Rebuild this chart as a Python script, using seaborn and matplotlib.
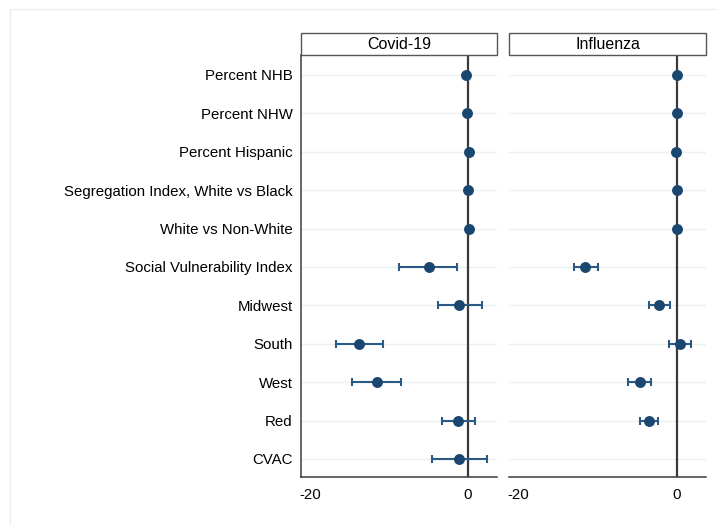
#!/usr/bin/env python3
"""
Coefficient plot: Covid-19 vs Influenza, two panels sharing the y categories.
"""

import numpy as np
import pandas as pd
import matplotlib
matplotlib.use("Agg")
import matplotlib.pyplot as plt
from matplotlib.patches import Rectangle
import seaborn as sns

# --- data ---
terms = [
    "Percent NHB",
    "Percent NHW",
    "Percent Hispanic",
    "Segregation Index, White vs Black",
    "White vs Non-White",
    "Social Vulnerability Index",
    "Midwest",
    "South",
    "West",
    "Red",
    "CVAC",
]
panels = ["Covid-19", "Influenza"]

covid_est = [-0.2, -0.1, 0.1, 0.0, 0.2, -5.0, -1.1, -13.8, -11.6, -1.2, -1.1]
covid_lo = [-0.3, -0.2, 0.0, -0.1, 0.1, -8.7, -3.8, -16.7, -14.7, -3.3, -4.5]
covid_hi = [-0.1, 0.0, 0.2, 0.1, 0.3, -1.35, 1.8, -10.8, -8.5, 0.9, 2.4]

flu_est = [0.0, 0.0, -0.1, 0.1, 0.0, -11.6, -2.2, 0.4, -4.7, -3.5, np.nan]
flu_lo = [-0.1, -0.1, -0.2, 0.0, -0.1, -13.0, -3.5, -1.0, -6.1, -4.6, np.nan]
flu_hi = [0.1, 0.1, 0.0, 0.2, 0.1, -10.0, -0.9, 1.8, -3.2, -2.4, np.nan]

xticks = [-20, 0]

NAVY = "#1a476f"
BAR = "#2b5a86"
GRID = "#e9f1f3"
DARK = "#3a3a3a"
FS = 10.8


def build_frame():
    rows = []
    for panel, est, lo, hi in [
        ("Covid-19", covid_est, covid_lo, covid_hi),
        ("Influenza", flu_est, flu_lo, flu_hi),
    ]:
        for i, t in enumerate(terms):
            rows.append({"panel": panel, "term": t, "pos": i,
                         "est": est[i], "lo": lo[i], "hi": hi[i]})
    return pd.DataFrame(rows)


def draw_panel(ax, df, title, first):
    for i in range(len(terms)):
        ax.axhline(i, color=GRID, lw=1.0, zorder=0)
    ax.axvline(0, color=DARK, lw=1.6, zorder=1)

    d = df.dropna()
    ax.errorbar(d["est"], d["pos"],
                xerr=[d["est"] - d["lo"], d["hi"] - d["est"]],
                fmt="none", ecolor=BAR, elinewidth=1.5, capsize=2.8,
                capthick=1.5, zorder=2)
    sns.scatterplot(data=d, x="est", y="pos", ax=ax, color=NAVY, s=62,
                    edgecolor=NAVY, linewidth=0, zorder=3, legend=False)

    ax.set_xlim(-21.2, 3.7)
    ax.set_ylim(10.47, -0.52)
    ax.set_xticks(xticks)
    ax.set_xticklabels([str(x) for x in xticks])
    ax.set_yticks(range(len(terms)))
    ax.set_xlabel("")
    ax.set_ylabel("")
    ax.grid(False)

    for s in ["top", "right"]:
        ax.spines[s].set_visible(False)
    ax.spines["bottom"].set_color(DARK)
    ax.spines["bottom"].set_linewidth(1.1)
    if first:
        ax.set_yticklabels(terms)
        ax.spines["left"].set_color(DARK)
        ax.spines["left"].set_linewidth(1.1)
        ax.tick_params(axis="y", length=4, color=DARK, labelsize=FS, pad=2,
                       labelcolor="black")
    else:
        ax.spines["left"].set_visible(False)
        ax.tick_params(axis="y", left=False, labelleft=False)
    ax.tick_params(axis="x", length=5, color=DARK, labelsize=FS, pad=3,
                   labelcolor="black")

    # strip header
    ax.add_patch(Rectangle((0, 1.0), 1.0, 0.052, transform=ax.transAxes,
                           facecolor="white", edgecolor="#555555", lw=1.0,
                           clip_on=False, zorder=5))
    ax.text(0.5, 1.026, title, transform=ax.transAxes, ha="center",
            va="center", fontsize=11.5, color="black", zorder=6)


def main():
    sns.set_theme(style="white")
    plt.rcParams["font.family"] = ["Liberation Sans", "DejaVu Sans"]

    df = build_frame()
    fig = plt.figure(figsize=(7.16, 5.25), dpi=100)
    ax1 = fig.add_axes([0.4204, 0.0914, 0.2737, 0.8038])
    ax2 = fig.add_axes([0.7109, 0.0914, 0.2751, 0.8038])

    draw_panel(ax1, df[df["panel"] == "Covid-19"], "Covid-19", True)
    draw_panel(ax2, df[df["panel"] == "Influenza"], "Influenza", False)

    # faint outer frame of the graph region
    fig.patches.append(Rectangle((10 / 716, -0.01), 1.02, 1 - 9 / 525 + 0.01,
                                 transform=fig.transFigure, fill=False,
                                 edgecolor="#e6eef0", lw=1.0))

    fig.savefig("out.png", dpi=100)
    plt.close(fig)


if __name__ == "__main__":
    main()
